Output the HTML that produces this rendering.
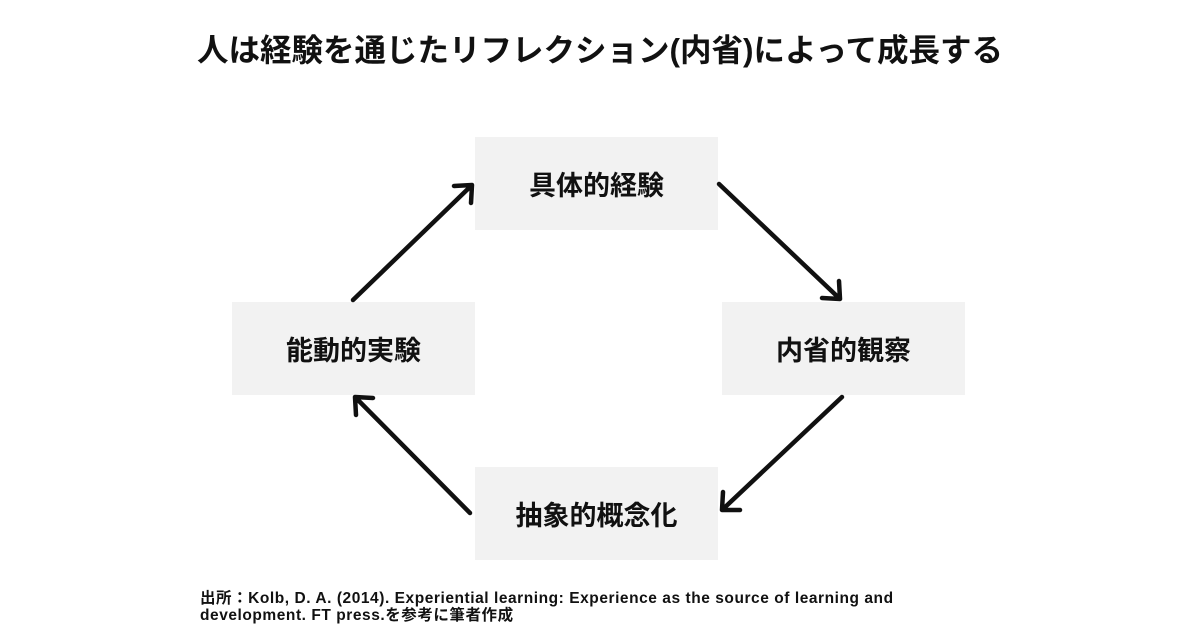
<!DOCTYPE html>
<html><head><meta charset="utf-8"><style>
body{margin:0;width:1200px;height:630px;background:#fff;position:relative;overflow:hidden;font-family:"Liberation Sans","Noto Sans CJK JP",sans-serif;color:#111}
.t{position:absolute;left:0;width:1200px;top:29px;text-align:center;font-size:31.5px;font-weight:bold;line-height:42px}
.b{position:absolute;width:243px;height:93px;background:#f2f2f2;display:flex;align-items:center;justify-content:center;font-size:27px;font-weight:bold}
.f{position:absolute;left:200px;top:590px;font-size:15.5px;font-weight:bold;line-height:17px;white-space:nowrap;letter-spacing:0.55px}
</style></head><body>
<div class="t">人は経験を通じたリフレクション(内省)によって成長する</div>
<div class="b" style="left:475px;top:137px">具体的経験</div>
<div class="b" style="left:722px;top:302px">内省的観察</div>
<div class="b" style="left:232px;top:302px">能動的実験</div>
<div class="b" style="left:475px;top:467px">抽象的概念化</div>
<svg width="1200" height="630" style="position:absolute;left:0;top:0" fill="none" stroke="#111" stroke-width="4.5" stroke-linecap="round" stroke-linejoin="round">
<path d="M353 300L472 185M454 186L472 185L471 203"/>
<path d="M719 184L840 299M822 298L840 299L839 281"/>
<path d="M842 397L722 510M723 492L722 510L740 510"/>
<path d="M470 513L355 397M356 415L355 397L373 398"/>
</svg>
<div class="f">出所：Kolb, D. A. (2014). Experiential learning: Experience as the source of learning and<br>development. FT press.を参考に筆者作成</div>
</body></html>
